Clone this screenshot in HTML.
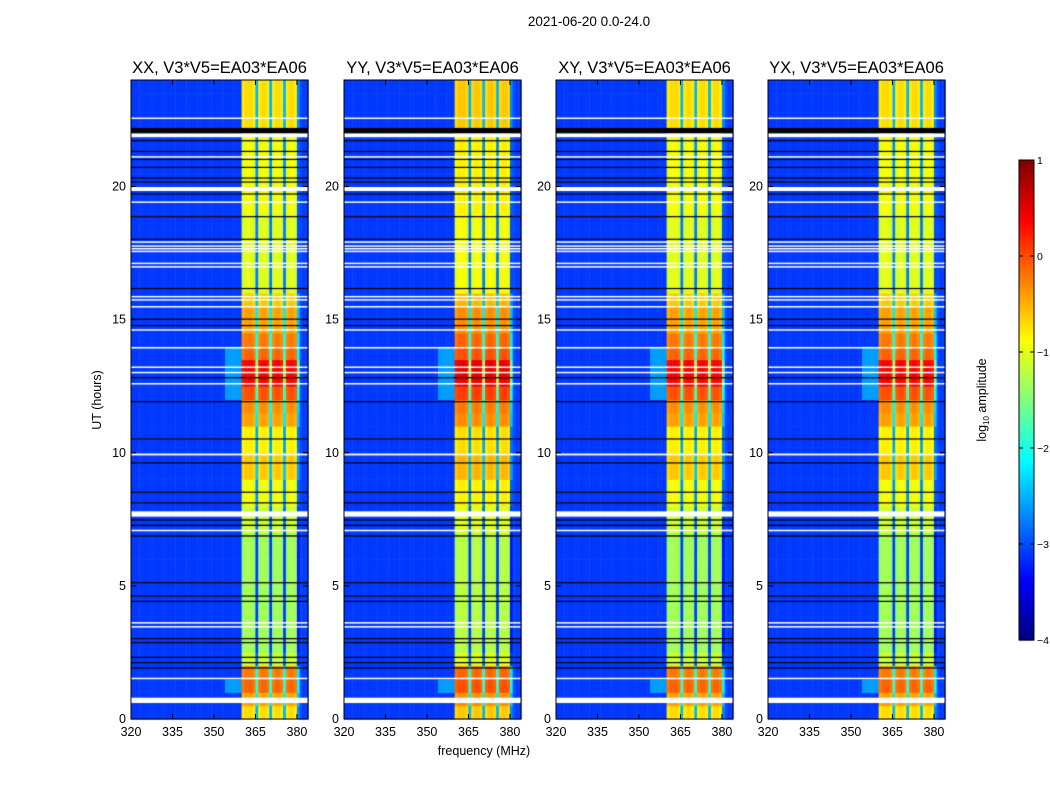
<!DOCTYPE html>
<html><head><meta charset="utf-8"><style>
body{margin:0;background:#fff;font-family:"Liberation Sans",sans-serif}
#wrap{position:relative;width:1050px;height:800px;overflow:hidden}
canvas,svg{position:absolute;left:0;top:0}
</style></head><body>
<div id="wrap">
<canvas id="cv" width="1050" height="800"></canvas>
<svg id="sv" width="1050" height="800"></svg>
</div>
<script>
// ---- data ----
const panelTitles = ["XX, V3*V5=EA03*EA06","YY, V3*V5=EA03*EA06","XY, V3*V5=EA03*EA06","YX, V3*V5=EA03*EA06"];
const panelOffset = [0, 0.1, 0, 0];
// frequency columns 320..383 MHz (1 MHz), base log amplitude
const freqs = Array.from({length:64},(_, i)=>320+i);
const colBase = [
-3.1,-3.1,-3.1,-3.1,-3.1,-3.1,-3.1,-3.1,-3.1,-3.1, -3.1,-3.1,-3.1,-3.1,-3.1,-3.1,-3.1,-3.1,-3.1,-3.1,
-3.1,-3.1,-3.1,-3.1,-3.1,-3.1,-3.1,-3.1,-3.1,-3.1, -3.1,-3.1,-3.1,-3.1,-3.1,-3.1,-3.1,-3.1,-3.1,-3.1,
-0.9,-0.8,-0.8,-0.8,-0.9,-2.6,-0.9,-0.8,-0.8,-0.9,-2.6,-0.9,-0.8,-0.8,-0.9,-2.6,-0.9,-0.8,-0.8,-0.9,
-2.8,-3.0,-3.1,-3.1];
// band intensity boost per half hour (48 bins, 0..24 h)
const rowBoost = [
0.1,0.4,0.7,0.6,-0.3,-0.5,-0.5,-0.5,-0.5,-0.5,-0.5,-0.5,-0.5,-0.5,-0.3,-0.3,
-0.1,-0.1,0.2,0.2,0,0,0.4,0.5,0.8,1.2,1.2,0.7,0.6,0.4,0.4,0.2,
-0.2,-0.2,-0.2,-0.2,-0.2,-0.2,-0.1,-0.1,-0.1,-0.1,-0.1,-0.1,0.1,0.1,0.1,0.1];
// flagged rows (hours): white = blanked, black = dark
const whiteRows = [[22.55,0.04],[21.85,0.15],[21.1,0.04],[19.83,0.15],[19.4,0.04],[17.9,0.04],[17.75,0.04],[17.65,0.04],[17.55,0.04],[17.1,0.04],[16.97,0.04],[15.85,0.04],[15.73,0.04],[15.47,0.04],[14.6,0.04],[13.93,0.04],[13.2,0.04],[13.0,0.04],[12.58,0.04],[9.9,0.07],[7.6,0.2],[7.05,0.06],[3.6,0.04],[3.45,0.04],[1.5,0.05],[0.6,0.2]];
const blackRows = [[22.0,0.2],[21.7,0.04],[21.3,0.04],[21.0,0.04],[20.7,0.04],[20.3,0.04],[20.15,0.04],[19.7,0.04],[18.85,0.04],[18.0,0.04],[16.15,0.04],[15.0,0.04],[14.76,0.04],[12.8,0.04],[11.9,0.04],[10.5,0.04],[9.6,0.04],[8.5,0.04],[8.1,0.04],[7.45,0.05],[7.25,0.05],[6.85,0.05],[5.1,0.04],[4.6,0.04],[4.4,0.04],[3.0,0.04],[2.85,0.04],[2.3,0.04],[2.1,0.04],[1.9,0.04]];
const yTicks = [0,5,10,15,20];
const xTicks = [320,335,350,365,380];
const cbTicks = [1,0,-1,-2,-3,-4];
const cbLabels = ["1","0","\u22121","\u22122","\u22123","\u22124"];

// ---- layout ----
const px0 = [131,344,556,768], PW=177, PY=80, PH=639;
const fx = (p,f)=>px0[p]+(f-320)*PW/64;
const hy = h=>PY+PH-(h*PH/24);
function jet(v){const t=Math.max(0,Math.min(1,(v+4)/5));
 const c=x=>Math.max(0,Math.min(1,x));
 const r=c(Math.min(4*t-1.5,-4*t+4.5)),g=c(Math.min(4*t-0.5,-4*t+3.5)),b=c(Math.min(4*t+0.5,-4*t+2.5));
 return `rgb(${r*255|0},${g*255|0},${b*255|0})`;}

const ctx=document.getElementById('cv').getContext('2d');
for(let p=0;p<4;p++){
 for(let r=0;r<rowBoost.length;r++){
  const y1=hy(r*0.5), y0=hy(r*0.5+0.5);
  for(let c=0;c<freqs.length;c++){
   let v=colBase[c];
   if(v>-2.85) v+=rowBoost[r]+panelOffset[p]*(v>-2?1:0);
   if(freqs[c]>=354&&freqs[c]<360&&rowBoost[r]>=0.7) v=-2.6;
   ctx.fillStyle=jet(v);
   const x0=fx(p,freqs[c]), x1=fx(p,freqs[c]+1);
   ctx.fillRect(x0,y0,x1-x0+0.5,y1-y0+0.5);
  }
 }
 ctx.fillStyle='#fff';
 whiteRows.forEach(w=>{const a=hy(w[0]+w[1]),b=hy(w[0]);ctx.fillRect(px0[p],a,PW,Math.max(1.5,b-a));});
 ctx.fillStyle='#000';
 blackRows.forEach(w=>{const a=hy(w[0]+w[1]),b=hy(w[0]);ctx.fillRect(px0[p],a,PW,Math.max(1.2,b-a));});
}
// colorbar
const CBX=1019,CBY=160,CBW=15,CBH=480;
for(let i=0;i<CBH;i++){ctx.fillStyle=jet(1-5*i/CBH);ctx.fillRect(CBX,CBY+i,CBW,1.5);}

// ---- svg overlay ----
const sv=document.getElementById('sv');const NS='http://www.w3.org/2000/svg';
function el(tag,attrs,txt){const e=document.createElementNS(NS,tag);for(const k in attrs)e.setAttribute(k,attrs[k]);if(txt!==undefined)e.textContent=txt;sv.appendChild(e);return e;}
let t=el('text',{x:589,y:26,'text-anchor':'middle','font-size':13.5,'font-family':'Liberation Sans'},'2021-06-20 0.0-24.0');


for(let p=0;p<4;p++){
 let r=el('rect',{x:px0[p],y:PY,width:PW,height:PH,fill:'none',stroke:'#000','stroke-width':1});
 
 
 let tt=el('text',{x:px0[p]+PW/2,y:73,'text-anchor':'middle','font-size':16.5,'font-family':'Liberation Sans'},panelTitles[p]);
 
 
 yTicks.forEach(h=>{const y=hy(h);
  el('line',{x1:px0[p],x2:px0[p]+5,y1:y,y2:y,stroke:'#000'});
  el('line',{x1:px0[p]+PW,x2:px0[p]+PW-5,y1:y,y2:y,stroke:'#000'});
  let l=el('text',{x:px0[p]-5,y:y+4,'text-anchor':'end','font-size':12.5,'font-family':'Liberation Sans'},String(h));
  
  
 });
 xTicks.forEach(f=>{const x=fx(p,f);
  el('line',{x1:x,x2:x,y1:PY+PH,y2:PY+PH-5,stroke:'#000'});
  el('line',{x1:x,x2:x,y1:PY,y2:PY+5,stroke:'#000'});
  let l=el('text',{x:x,y:PY+PH+17,'text-anchor':'middle','font-size':12.5,'font-family':'Liberation Sans'},String(f));
  
  
 });
}
t=el('text',{x:484,y:755,'text-anchor':'middle','font-size':12.5,'font-family':'Liberation Sans'},'frequency (MHz)');


t=el('text',{x:0,y:0,'text-anchor':'middle','font-size':12.5,'font-family':'Liberation Sans',transform:'translate(101,400) rotate(-90)'},'UT (hours)');


let cb=el('rect',{x:CBX,y:CBY,width:CBW,height:CBH,fill:'none',stroke:'#000'});


cbTicks.forEach((v,i)=>{const y=CBY+(1-v)*CBH/5;
 el('line',{x1:CBX,x2:CBX+4,y1:y,y2:y,stroke:'#000'});
 el('line',{x1:CBX+CBW,x2:CBX+CBW-4,y1:y,y2:y,stroke:'#000'});
 let l=el('text',{x:1037,y:y+4,'font-size':10.5,'font-family':'Liberation Sans'},cbLabels[i]);
 
 
});
t=el('text',{x:0,y:0,'text-anchor':'middle','font-size':12.5,'font-family':'Liberation Sans',transform:'translate(986,400) rotate(-90)'});
t.innerHTML='log<tspan font-size="8" dy="3">10</tspan><tspan dy="-3"> amplitude</tspan>';


</script>
</body></html>
